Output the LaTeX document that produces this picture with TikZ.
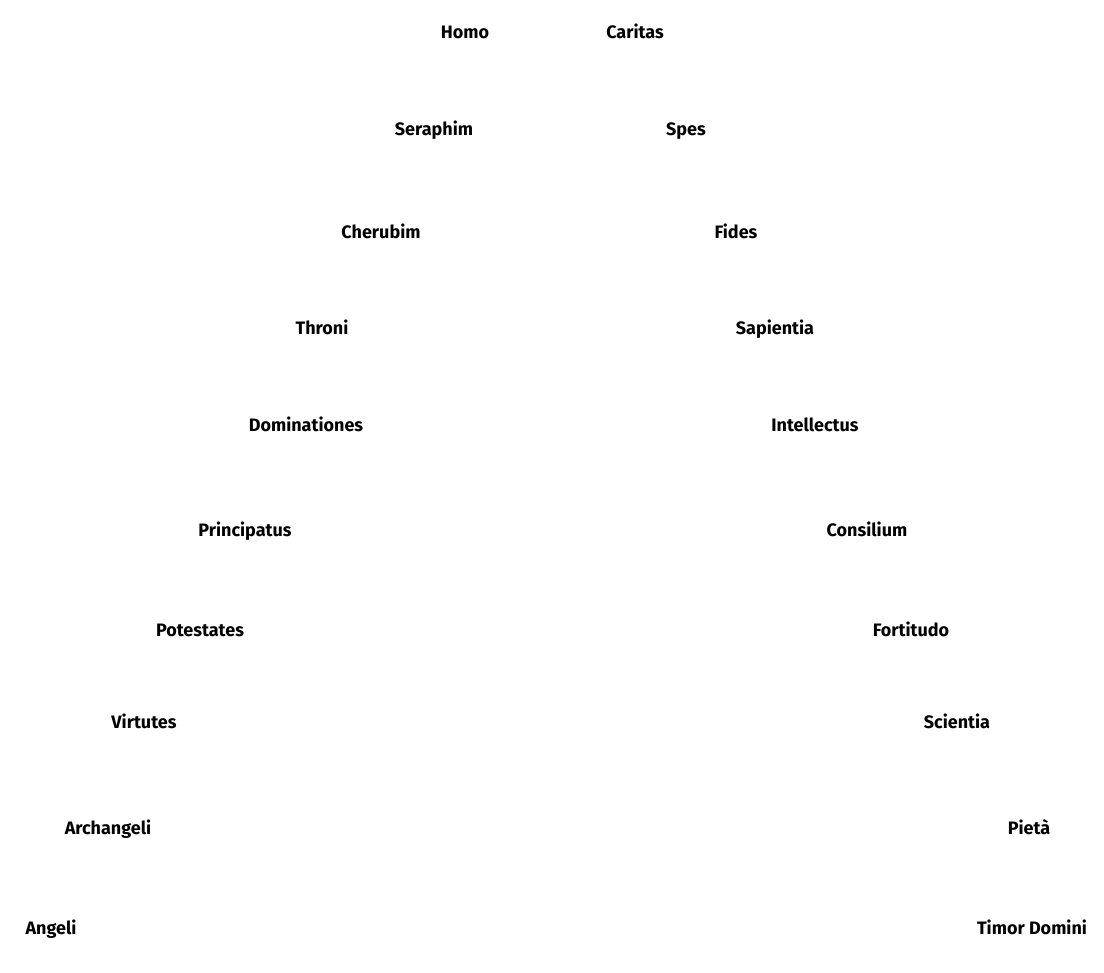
\documentclass[tikz,border=0pt]{standalone}
\usepackage{fontspec}
\setmainfont{Fira Sans}
\begin{document}
\begin{tikzpicture}[x=1pt,y=-1pt,
  lbl/.style={font=\bfseries\fontsize{18}{21}\selectfont, inner sep=0pt, anchor=base, yshift=-6.2pt}]
\useasboundingbox[fill=white] (0,0) rectangle (1104,973);
\node[lbl] (homo) at (465,32) {Homo};
\node[lbl] (caritas) at (635,32) {Caritas};
\node[lbl] (seraphim) at (434,129) {Seraphim};
\node[lbl] (spes) at (686,129) {Spes};
\node[lbl] (cherubim) at (381,232) {Cherubim};
\node[lbl] (fides) at (736,232) {Fides};
\node[lbl] (throni) at (322,328) {Throni};
\node[lbl] (sapientia) at (775,328) {Sapientia};
\node[lbl] (dominationes) at (306,425) {Dominationes};
\node[lbl] (intellectus) at (815,425) {Intellectus};
\node[lbl] (principatus) at (245,530) {Principatus};
\node[lbl] (consilium) at (867,530) {Consilium};
\node[lbl] (potestates) at (200,630) {Potestates};
\node[lbl] (fortitudo) at (911,630) {Fortitudo};
\node[lbl] (virtutes) at (144,722) {Virtutes};
\node[lbl] (scientia) at (957,722) {Scientia};
\node[lbl] (archangeli) at (108,828) {Archangeli};
\node[lbl] (pieta) at (1029,828) {Pietà};
\node[lbl] (angeli) at (51,928) {Angeli};
\node[lbl] (timor) at (1032,928) {Timor Domini};
\end{tikzpicture}
\end{document}
